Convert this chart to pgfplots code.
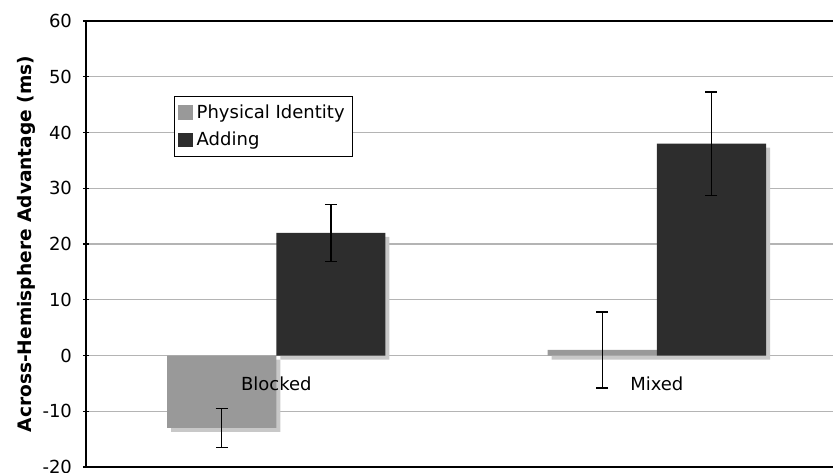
\documentclass[border=0pt]{standalone}
\usepackage{pgfplots}
\pgfplotsset{compat=1.18}
\usepackage{fontspec}
\setmainfont{DejaVu Sans}
\definecolor{pigray}{HTML}{999999}
\definecolor{addark}{HTML}{2D2D2D}
\definecolor{shadow}{HTML}{C8C8C8}
\definecolor{gridc}{HTML}{B4B4B4}
\begin{document}
\begin{tikzpicture}
\begin{axis}[
  at={(0,0)}, anchor=south west,
  scale only axis, width=373.5pt, height=223pt,
  xmin=-0.5, xmax=1.463, ymin=-20, ymax=60,
  ytick={-20,-10,...,60},
  xtick=\empty,
  yticklabel style={xshift=-2pt},
  y tick style={black, line width=0.6pt},
  tick align=outside, major tick length=3pt,
  ymajorgrids, grid style={gridc, line width=0.7pt},
  axis x line=box, axis y line=left,
  axis line style={-, line width=1.1pt, black},
  tick label style={font=\fontsize{9}{11}\selectfont},
  /pgf/number format/assume math mode=true,
  ylabel={\bfseries Across-Hemisphere Advantage (ms)},
  ylabel style={font=\fontsize{9.3}{11}\selectfont, at={(axis description cs:-0.08,0.5)}, anchor=center},
  ybar, bar width=0.287,
  clip=false,
  legend style={at={(axis description cs:0.1178,0.8318)}, anchor=north west,
    draw=black, line width=0.5pt, font=\fontsize{9}{11}\selectfont,
    row sep=1.5pt, inner sep=2pt},
  legend cell align=left,
  legend image code/.code={\fill[#1] (0cm,-0.12cm) rectangle (0.25cm,0.13cm);},
  error bars/y dir=both, error bars/y explicit,
  error bars/error mark options={black, rotate=90, mark size=3pt, line width=0.7pt},
  error bars/error bar style={black, line width=0.7pt},
]
% shadows
\addplot[fill=shadow, draw=none, bar shift=-0.1435, xshift=2pt, yshift=-2pt, forget plot,
  error bars/y dir=none]
  coordinates {(0,-13) (1,1)};
\addplot[fill=shadow, draw=none, bar shift=0.1435, xshift=2pt, yshift=-2pt, forget plot,
  error bars/y dir=none]
  coordinates {(0,22) (1,38)};
% bars
\addplot[fill=pigray, draw=none, bar shift=-0.1435]
  coordinates {(0,-13) +- (0,3.5) (1,1) +- (0,6.8)};
\addlegendentry{Physical Identity}
\addplot[fill=addark, draw=none, bar shift=0.1435]
  coordinates {(0,22) +- (0,5.1) (1,38) +- (0,9.25)};
\addlegendentry{Adding}
% category labels on the zero line
\addplot[sharp plot, draw=none, mark=none, forget plot, error bars/y dir=none,
  point meta=explicit symbolic, nodes near coords,
  every node near coord/.style={anchor=north, yshift=-7pt, font=\fontsize{9}{11}\selectfont, text=black}]
  coordinates {(0,0) [Blocked] (1,0) [Mixed]};
\end{axis}
\pgfresetboundingbox
\path (-43pt,-2.5pt) rectangle (373.5pt,233.5pt);
\end{tikzpicture}
\end{document}
